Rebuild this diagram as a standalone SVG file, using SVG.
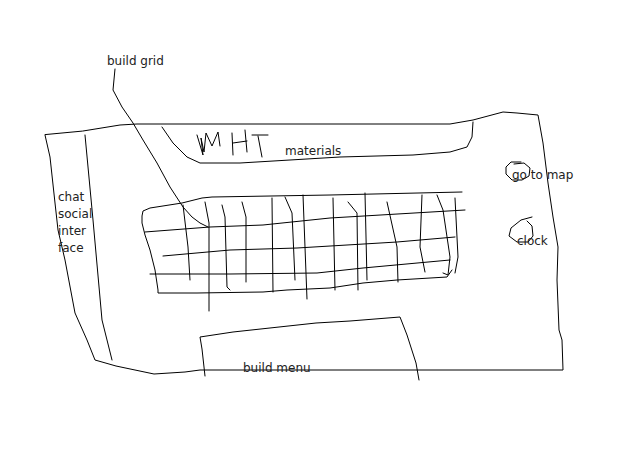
<svg xmlns="http://www.w3.org/2000/svg" width="638" height="466" viewBox="0 0 638 466">
<style>
.s{fill:none;stroke:#000;stroke-width:1;stroke-linejoin:round;stroke-linecap:round}
.t{font-family:"DejaVu Sans",sans-serif;font-size:12px;fill:#222}
</style>
<rect width="638" height="466" fill="#fff"/>
<g id="screen">
<path class="s" d="M45,135 L50,157 L55,203 L58,230 L65,260 L75,313 L87,340 L95,360 L116,366 L154,374 L185,372 L200,370 L563,370 L562,340 L559,330 L557,280 L558,247 L553,217 L548,183 L543,143 L538,115 L517,113 L503,112 L473,120 L450,124 L137,124 L120,125 L83,131 Z"/>
</g>
<g id="chat-panel">
<path class="s" d="M85,135 L93,220 L102,320 L112,360"/>
<text class="t" x="58" y="201">chat</text>
<text class="t" x="58" y="218">social</text>
<text class="t" x="58" y="235">inter</text>
<text class="t" x="58" y="252">face</text>
</g>
<g id="materials-panel">
<path class="s" d="M162,127 L173,143 L187,157 L200,163 L240,163 L340,157 L413,155 L450,152 L467,147 L472,137 L473,122"/>
<path class="s" d="M197,135 L203,155 L201,138 L204,152 L206,133 L212,146 L218,132 L220,146"/>
<path class="s" d="M232,133 L233,155 M233,143 L247,141 M245,130 L247,152"/>
<path class="s" d="M252,135 L268,135 M258,136 L262,157"/>
<text class="t" x="285" y="155">materials</text>
</g>
<g id="build-grid">
<path class="s" d="M462,192 L330,195 L212,197 L202,198 L182,203 L150,208 L143,211 L142,216 L142,223 L145,235 L150,250 L155,270 L158,290 L158,293 L197,293 L263,292 L287,290 L330,288 L363,283 L397,280 L447,277 L452,270"/>
<path class="s" d="M145,232 L210,227 L263,225 L330,218 L465,210"/>
<path class="s" d="M163,256 L230,250 L297,248 L397,242 L455,237"/>
<path class="s" d="M150,274 L230,274 L317,273 L363,268 L450,260"/>
<path class="s" d="M183,205 L188,247 L190,280"/>
<path class="s" d="M205,202 L209,223 L209,311"/>
<path class="s" d="M222,205 L225,217 L227,287 L230,290"/>
<path class="s" d="M242,202 L246,217 L246,282"/>
<path class="s" d="M272,198 L273,292"/>
<path class="s" d="M285,197 L292,213 L295,280"/>
<path class="s" d="M303,195 L307,299"/>
<path class="s" d="M333,198 L335,290"/>
<path class="s" d="M348,202 L357,213 L358,290"/>
<path class="s" d="M365,193 L367,280"/>
<path class="s" d="M387,202 L397,247 L398,282"/>
<path class="s" d="M422,195 L420,247 L425,272"/>
<path class="s" d="M437,195 L443,210 L450,257 L448,275 L443,273"/>
<path class="s" d="M455,198 L458,257 L455,273"/>
</g>
<g id="build-grid-label">
<text class="t" x="107" y="65">build grid</text>
<path class="s" d="M115,69 L113,90 L122,107 L133,123 L143,140 L157,163 L170,187 L183,207 L192,217 L200,223 L208,227"/>
</g>
<g id="go-to-map">
<path class="s" d="M521,162 L511,162 L506,167 L506,174 L512,180 L522,180 L529,176 L530,168 L524,163 L514,164"/>
<text class="t" x="512" y="179">go to map</text>
</g>
<g id="clock">
<path class="s" d="M532,217 L521,220 L511,228 L509,236 L517,242 L528,242 L533,236 L532,226 L527,221"/>
<text class="t" x="517" y="245">clock</text>
</g>
<g id="build-menu">
<path class="s" d="M205,376 L202,349 L200,337 L233,332 L316,323 L350,321 L400,317 L407,335 L416,363 L419,380"/>
<text class="t" x="243" y="372">build menu</text>
</g>
</svg>
